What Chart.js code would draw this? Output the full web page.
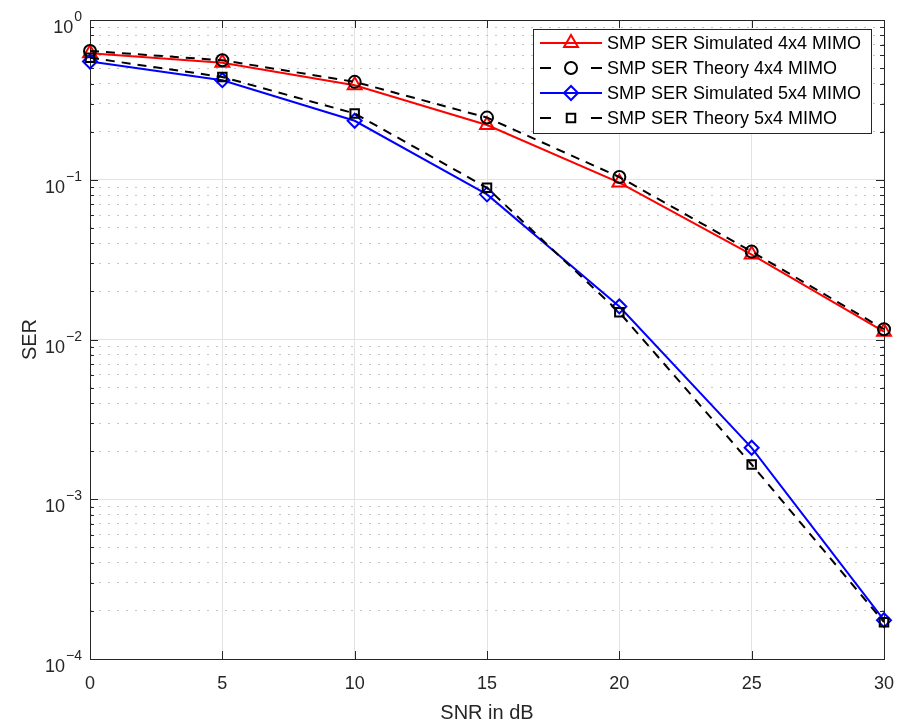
<!DOCTYPE html>
<html>
<head>
<meta charset="utf-8">
<script src="https://cdn.jsdelivr.net/npm/chart.js@4.4.1/dist/chart.umd.min.js"></script>
<style>
  body { margin: 0; background: #fff; }
  #wrap { width: 898px; height: 725px; }
</style>
</head>
<body>
<div id="wrap"><canvas id="ser" width="898" height="725"></canvas></div>
<script>
// SNR (dB) on x, SER on a log y axis
const snr = [0, 5, 10, 15, 20, 25, 30];
const serSim4x4 = [0.62, 0.54, 0.39, 0.22, 0.096, 0.034, 0.0112];
const serTheory4x4 = [0.64, 0.56, 0.41, 0.245, 0.104, 0.0355, 0.0116];
const serSim5x4 = [0.55, 0.42, 0.234, 0.081, 0.0161, 0.0021, 0.000175];
const serTheory5x4 = [0.58, 0.44, 0.26, 0.089, 0.0148, 0.00165, 0.00017];

const xTicks = [0, 5, 10, 15, 20, 25, 30];
const yDecades = [1e-4, 1e-3, 1e-2, 1e-1, 1];
const yExponents = ['\u22124', '\u22123', '\u22122', '\u22121', '0'];

const yMinor = [];
yDecades.slice(0, -1).forEach(d => {
  for (let k = 2; k <= 9; k++) yMinor.push(d * k);
});

const FONT = '"Liberation Sans", Arial, Helvetica, sans-serif';
const AXIS = '#262626';

const pts = arr => snr.map((x, i) => ({ x: x, y: arr[i] }));

// box round the plot + inward tick marks (matlab style)
const boxPlugin = {
  id: 'box',
  beforeDatasetsDraw(chart) {
    const { ctx, chartArea: a, scales } = chart;
    ctx.save();
    ctx.strokeStyle = AXIS;
    ctx.lineWidth = 1;
    ctx.beginPath();
    xTicks.forEach(v => {
      const px = Math.round(scales.x.getPixelForValue(v)) + 0.5;
      ctx.moveTo(px, a.bottom); ctx.lineTo(px, a.bottom - 8);
      ctx.moveTo(px, a.top); ctx.lineTo(px, a.top + 8);
    });
    yDecades.forEach(v => {
      const py = Math.round(scales.y.getPixelForValue(v)) + 0.5;
      ctx.moveTo(a.left, py); ctx.lineTo(a.left + 8, py);
      ctx.moveTo(a.right, py); ctx.lineTo(a.right - 8, py);
    });
    yMinor.forEach(v => {
      const py = Math.round(scales.y.getPixelForValue(v)) + 0.5;
      ctx.moveTo(a.left, py); ctx.lineTo(a.left + 4, py);
      ctx.moveTo(a.right, py); ctx.lineTo(a.right - 4, py);
    });
    ctx.stroke();
    ctx.strokeRect(Math.round(a.left) + 0.5, Math.round(a.top) + 0.5,
      Math.round(a.right - a.left), Math.round(a.bottom - a.top));
    ctx.restore();
  },
  afterDraw(chart) {
    const { ctx, scales } = chart;
    ctx.save();
    // y tick labels 10^n
    ctx.fillStyle = AXIS;
    ctx.textBaseline = 'alphabetic';
    ctx.textAlign = 'left';
    yDecades.forEach((v, i) => {
      const py = scales.y.getPixelForValue(v);
      ctx.font = '14px ' + FONT;
      const ew = ctx.measureText(yExponents[i]).width;
      const right = 82;
      ctx.fillText(yExponents[i], right - ew, py + 1);
      ctx.font = '18px ' + FONT;
      const bw = ctx.measureText('10').width;
      ctx.fillText('10', right - ew - bw - 1, py + 13);
    });

    // legend
    const L = { x: 533, y: 29, w: 338, h: 104 };
    ctx.fillStyle = '#fff';
    ctx.fillRect(L.x, L.y, L.w, L.h);
    ctx.strokeStyle = AXIS;
    ctx.lineWidth = 1;
    ctx.strokeRect(L.x + 0.5, L.y + 0.5, L.w, L.h);
    ctx.font = '18px ' + FONT;
    ctx.textBaseline = 'middle';
    chart.data.datasets.forEach((ds, i) => {
      const cy = 43 + i * 25;
      ctx.strokeStyle = ds.borderColor;
      ctx.lineWidth = 2;
      ctx.beginPath();
      if (ds.borderDash) {
        ctx.moveTo(540, cy); ctx.lineTo(551, cy);
        ctx.moveTo(591, cy); ctx.lineTo(602, cy);
      } else {
        ctx.moveTo(540, cy); ctx.lineTo(602, cy);
      }
      ctx.stroke();
      ctx.fillStyle = 'rgba(0,0,0,0)';
      ctx.strokeStyle = ds.pointBorderColor;
      ctx.lineWidth = ds.pointBorderWidth;
      Chart.helpers.drawPoint(ctx, {
        pointStyle: ds.pointStyle, radius: ds.pointRadius, rotation: 0,
        borderWidth: ds.pointBorderWidth
      }, 571, cy);
      ctx.fillStyle = '#000';
      ctx.fillText(ds.label, 607, cy + 1);
    });
    ctx.restore();
  }
};

new Chart(document.getElementById('ser'), {
  type: 'line',
  data: {
    datasets: [
      {
        label: 'SMP SER Simulated 4x4 MIMO',
        data: pts(serSim4x4),
        borderColor: '#ff0000', borderWidth: 2,
        pointStyle: 'triangle', pointRadius: 8, pointBorderWidth: 2,
        pointBorderColor: '#ff0000', pointBackgroundColor: 'rgba(0,0,0,0)',
        order: 4, clip: false
      },
      {
        label: 'SMP SER Theory 4x4 MIMO',
        data: pts(serTheory4x4),
        borderColor: '#000000', borderWidth: 2, borderDash: [9, 7],
        pointStyle: 'circle', pointRadius: 6, pointBorderWidth: 2,
        pointBorderColor: '#000000', pointBackgroundColor: 'rgba(0,0,0,0)',
        order: 3, clip: false
      },
      {
        label: 'SMP SER Simulated 5x4 MIMO',
        data: pts(serSim5x4),
        borderColor: '#0000ff', borderWidth: 2,
        pointStyle: 'rectRot', pointRadius: 7, pointBorderWidth: 2,
        pointBorderColor: '#0000ff', pointBackgroundColor: 'rgba(0,0,0,0)',
        order: 2, clip: false
      },
      {
        label: 'SMP SER Theory 5x4 MIMO',
        data: pts(serTheory5x4),
        borderColor: '#000000', borderWidth: 2, borderDash: [9, 7],
        pointStyle: 'rect', pointRadius: 6, pointBorderWidth: 2,
        pointBorderColor: '#000000', pointBackgroundColor: 'rgba(0,0,0,0)',
        order: 1, clip: false
      }
    ]
  },
  options: {
    responsive: false,
    animation: false,
    layout: { padding: { top: 20, right: 14, left: 0, bottom: 0 } },
    plugins: {
      legend: { display: false },
      tooltip: { enabled: false }
    },
    scales: {
      x: {
        type: 'linear', min: 0, max: 30,
        afterBuildTicks: s => { s.ticks = xTicks.map(v => ({ value: v })); },
        grid: { color: '#e3e3e3', drawTicks: false },
        border: { display: false },
        ticks: { font: { family: FONT, size: 18 }, color: AXIS, padding: 14, maxRotation: 0 },
        title: {
          display: true, text: 'SNR in dB', color: AXIS,
          font: { family: FONT, size: 20 }, padding: { top: 4, bottom: 0 }
        },
        afterFit: s => { s.height = 66; s.paddingLeft = 0; s.paddingRight = 0; }
      },
      y: {
        type: 'logarithmic', min: 1e-4, max: 1,
        afterBuildTicks: s => { s.ticks = yDecades.map(v => ({ value: v, major: true })); },
        grid: { color: '#e3e3e3', drawTicks: false },
        border: { display: false },
        ticks: { display: false },
        title: {
          display: true, text: 'SER', color: AXIS,
          font: { family: FONT, size: 20 }, padding: { top: 18, bottom: 0 }
        },
        afterFit: s => { s.width = 90; s.paddingTop = 0; s.paddingBottom = 0; }
      },
      yMinor: {
        type: 'logarithmic', position: 'left', min: 1e-4, max: 1,
        afterBuildTicks: s => { s.ticks = yMinor.map(v => ({ value: v })); },
        grid: { color: '#c4c4c4', drawTicks: false },
        border: { display: false, dash: [2, 7] },
        ticks: { display: false },
        afterFit: s => { s.width = 0; s.paddingTop = 0; s.paddingBottom = 0; }
      }
    }
  },
  plugins: [boxPlugin]
});
</script>
</body>
</html>
